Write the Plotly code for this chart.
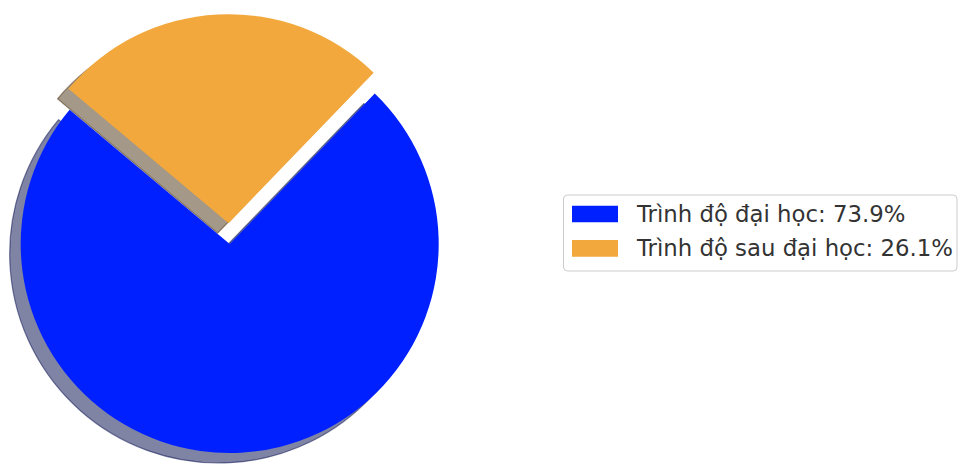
import math
import plotly.graph_objects as go

# ---- data ----
labels = ["Trình độ đại học", "Trình độ sau đại học"]
values = [73.9, 26.1]
colors = ["#0020ff", "#f2a83c"]
explode = [0.0, 0.1]

# ---- layout constants (pixels) ----
W, H = 958, 464
CX, CY, R = 229.7, 244.0, 209.0
START = 140            # start angle of first slice (degrees, ccw from 3 o'clock)
SHADOW_DX, SHADOW_DY = -11, 10


def fx(x):
    return x / W


def fy(y):
    return 1 - y / H


def dom(cx, cy, r):
    return dict(x=[fx(cx - r), fx(cx + r)], y=[fy(cy + r), fy(cy - r)])


def shadow_rgba(hexc, a=0.5):
    r, g, b = int(hexc[1:3], 16), int(hexc[3:5], 16), int(hexc[5:7], 16)
    return f"rgba({0.3*r:.0f},{0.3*g:.0f},{0.3*b:.0f},{a})"


total = sum(values)
centers = []
cum = 0.0
for i, v in enumerate(values):
    mid = START + 360.0 * (cum + v / 2) / total
    cum += v
    off = explode[i] * R
    centers.append((CX + off * math.cos(math.radians(mid)),
                    CY - off * math.sin(math.radians(mid))))

# plotly (counterclockwise): first slice spans clockwise from (90 - rotation)
ROTATION = 90 - (START + 360.0 * values[0] / total)

TRANSP = "rgba(0,0,0,0)"
fig = go.Figure()

common = dict(values=values, labels=labels, sort=False,
              direction="counterclockwise", rotation=ROTATION,
              textinfo="none", hoverinfo="label+percent", showlegend=False)

# shadows first
for i in range(len(values)):
    cx, cy = centers[i]
    cols = [shadow_rgba(colors[j]) if j == i else TRANSP for j in range(len(values))]
    lw = [1.2 if j == i else 0 for j in range(len(values))]
    fig.add_trace(go.Pie(domain=dom(cx + SHADOW_DX, cy + SHADOW_DY, R),
                         marker=dict(colors=cols, line=dict(color=cols, width=lw)),
                         **common))

# wedges
for i in range(len(values)):
    cx, cy = centers[i]
    cols = [colors[j] if j == i else TRANSP for j in range(len(values))]
    fig.add_trace(go.Pie(domain=dom(cx, cy, R),
                         marker=dict(colors=cols, line=dict(width=0)),
                         **common))

# ---- legend (matplotlib style) ----
LX0, LX1, LY0, LY1, RAD = 563.5, 957.0, 195.0, 271.0, 4.0
path = (f"M {fx(LX0+RAD)},{fy(LY0)} L {fx(LX1-RAD)},{fy(LY0)} "
        f"Q {fx(LX1)},{fy(LY0)} {fx(LX1)},{fy(LY0+RAD)} "
        f"L {fx(LX1)},{fy(LY1-RAD)} Q {fx(LX1)},{fy(LY1)} {fx(LX1-RAD)},{fy(LY1)} "
        f"L {fx(LX0+RAD)},{fy(LY1)} Q {fx(LX0)},{fy(LY1)} {fx(LX0)},{fy(LY1-RAD)} "
        f"L {fx(LX0)},{fy(LY0+RAD)} Q {fx(LX0)},{fy(LY0)} {fx(LX0+RAD)},{fy(LY0)} Z")
shapes = [dict(type="path", xref="paper", yref="paper", path=path,
               fillcolor="rgba(255,255,255,0.8)", line=dict(color="#cccccc", width=1))]
annotations = []
ROW0, ROWSTEP = 214.0, 34.4
for i, (lab, v) in enumerate(zip(labels, values)):
    yc = ROW0 + i * ROWSTEP
    shapes.append(dict(type="rect", xref="paper", yref="paper",
                       x0=fx(572), x1=fx(618), y0=fy(yc + 8.3), y1=fy(yc - 8.3),
                       fillcolor=colors[i], line=dict(width=0)))
    annotations.append(dict(xref="paper", yref="paper", x=fx(633.5), y=fy(yc),
                            xanchor="left", yanchor="middle", showarrow=False,
                            text=f"{lab}: {100*v/total:.1f}%",
                            font=dict(family="DejaVu Sans", size=22.8, color="#333333")))

fig.update_layout(width=W, height=H, margin=dict(l=0, r=0, t=0, b=0),
                  paper_bgcolor="white", plot_bgcolor="white",
                  shapes=shapes, annotations=annotations,
                  font=dict(family="DejaVu Sans"))

fig.write_html("out.html", config={"displayModeBar": False},
               post_script="document.body.style.margin='0';"
                           "document.body.style.overflow='hidden';")
